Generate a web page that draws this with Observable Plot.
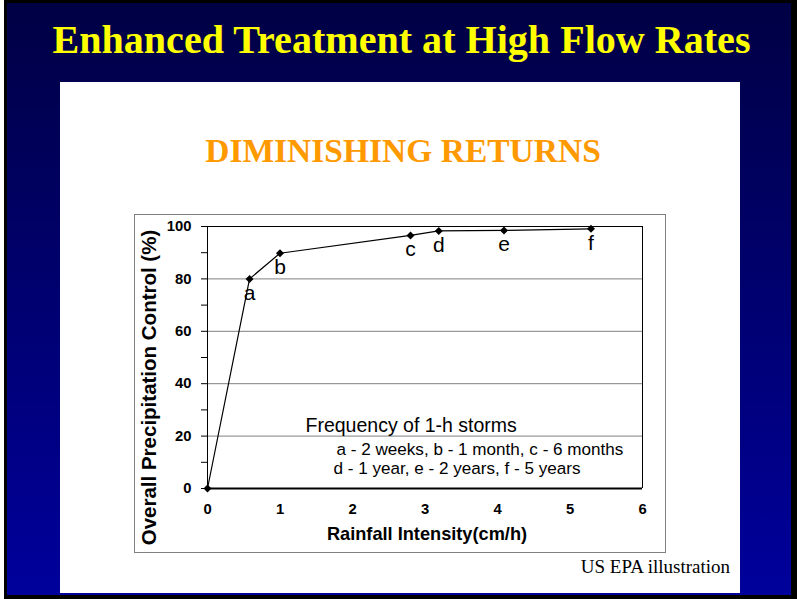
<!DOCTYPE html>
<html><head><meta charset="utf-8">
<script src="https://cdn.jsdelivr.net/npm/d3@7"></script>
<script src="https://cdn.jsdelivr.net/npm/@observablehq/plot@0.6"></script>
<style>
html,body{margin:0;padding:0;width:797px;height:599px;overflow:hidden;background:#fff;}
#frame{position:absolute;left:4px;top:0;width:793px;height:599px;background:#000;}
#bg{position:absolute;left:7px;top:3px;width:784px;height:592px;background:linear-gradient(#000044,#00009c);}
#title{position:absolute;left:3px;width:797px;top:19.5px;line-height:1;text-align:center;font-family:"Liberation Serif","Times New Roman",serif;font-weight:bold;font-size:40.1px;color:#ffff00;white-space:nowrap;}
#panel{position:absolute;left:60px;top:82px;width:680px;height:511px;background:#fff;}
#sub{position:absolute;left:3px;width:680px;top:51.6px;line-height:1;text-align:center;font-family:"Liberation Serif","Times New Roman",serif;font-weight:bold;font-size:33.5px;color:#ff9900;white-space:nowrap;}
#chartbox{position:absolute;left:74px;top:132px;width:532px;height:339px;border:1px solid #808080;box-sizing:border-box;}
#chartbox svg{position:absolute;left:0;top:0;}
#credit{position:absolute;right:10px;top:475px;line-height:1;font-family:"Liberation Serif","Times New Roman",serif;font-size:19px;color:#000;white-space:nowrap;}
</style>
</head><body>
<div id="frame"></div>
<div id="bg"></div>
<div id="title">Enhanced Treatment at High Flow Rates</div>
<div id="panel">
  <div id="sub">DIMINISHING RETURNS</div>
  <div id="chartbox"></div>
  <div id="credit">US EPA illustration</div>
</div>
<script>
// Data
const intensity = [0, 0.58, 1.0, 2.8, 3.19, 4.09, 5.29];
const control   = [0, 80, 89.8, 96.6, 98.3, 98.5, 99.1];
const pointLabels = ["", "a", "b", "c", "d", "e", "f"];
const yTicks = [0, 10, 20, 30, 40, 50, 60, 70, 80, 90, 100];
const yLabeled = [0, 20, 40, 60, 80, 100];
const gridY = [20, 40, 60, 80];
const xTicks = [0, 1, 2, 3, 4, 5, 6];
const xLabel = "Rainfall Intensity(cm/h)";
const yLabel = "Overall Precipitation Control (%)";
const legendTitle = "Frequency of 1-h storms";
const legendLine1 = "a - 2 weeks, b - 1 month, c - 6 months";
const legendLine2 = "d - 1 year, e - 2 years, f - 5 years";

const data = intensity.map((x, i) => ({x, y: control[i], label: pointLabels[i]}));
const font = "'Liberation Sans', Arial, Helvetica, sans-serif";

const chart = Plot.plot({
  width: 530, height: 337,
  marginLeft: 72, marginRight: 23, marginTop: 11, marginBottom: 64,
  style: {background: "transparent", fontFamily: font, color: "#000", overflow: "visible"},
  x: {domain: [0, 6]},
  y: {domain: [0, 100]},
  marks: [
    Plot.ruleY(gridY, {stroke: "#808080", strokeWidth: 1}),
    Plot.ruleY([100], {stroke: "#000", strokeWidth: 1}),
    Plot.ruleX([6], {stroke: "#000", strokeWidth: 1}),
    Plot.ruleX([0], {stroke: "#000", strokeWidth: 1}),
    Plot.axisY({ticks: yTicks, tickSize: 6, tickPadding: 10, label: null,
      tickFormat: d => yLabeled.includes(d) ? String(d) : "",
      fontSize: 14.8, fontWeight: "bold", stroke: "#000"}),
    Plot.axisX({ticks: xTicks, tickSize: 0, tickPadding: 15, label: null,
      tickFormat: d => String(d), fontSize: 14.8, fontWeight: "bold"}),
    Plot.ruleY([0], {stroke: "#000", strokeWidth: 2}),
    Plot.line(data, {x: "x", y: "y", stroke: "#000", strokeWidth: 1.2}),
    Plot.dot(data, {x: "x", y: "y", symbol: "diamond2", fill: "#000", stroke: "none", r: 3.6}),
    Plot.text(data, {x: "x", y: "y", text: "label", dy: 14, fontSize: 21, fill: "#000"}),
    Plot.text([xLabel], {frameAnchor: "bottom", textAnchor: "middle", lineAnchor: "middle",
      dx: 2, dy: 45.7, fontSize: 18.2, fontWeight: "bold", fill: "#000"}),
    Plot.text([yLabel], {frameAnchor: "left", textAnchor: "middle", lineAnchor: "middle", rotate: -90,
      dx: -58.4, dy: 30, fontSize: 20.5, fontWeight: "bold", fill: "#000"}),
    Plot.text([legendTitle], {frameAnchor: "bottom-left", textAnchor: "start", lineAnchor: "middle",
      dx: 98, dy: -63.1, fontSize: 19.5, fill: "#000"}),
    Plot.text([legendLine1], {frameAnchor: "bottom-left", textAnchor: "start", lineAnchor: "middle",
      dx: 129, dy: -39.1, fontSize: 17.1, fill: "#000"}),
    Plot.text([legendLine2], {frameAnchor: "bottom-left", textAnchor: "start", lineAnchor: "middle",
      dx: 126, dy: -20.1, fontSize: 17.1, fill: "#000"})
  ]
});
document.getElementById("chartbox").appendChild(chart);
</script>
</body></html>
